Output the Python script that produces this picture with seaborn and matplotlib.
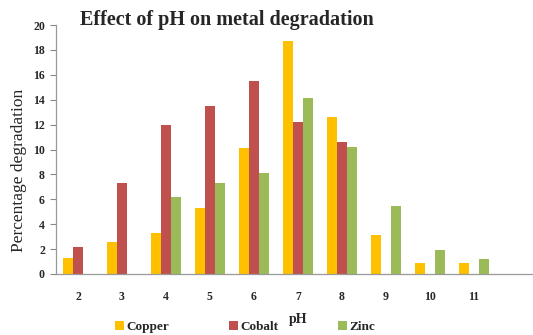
import matplotlib
matplotlib.use("Agg")
import matplotlib.pyplot as plt
import seaborn as sns
import pandas as pd
from matplotlib.patches import Patch

ph = ["2", "3", "4", "5", "6", "7", "8", "9", "10", "11"]
copper = [1.3, 2.6, 3.3, 5.3, 10.1, 18.7, 12.6, 3.1, 0.9, 0.9]
cobalt = [2.2, 7.3, 12.0, 13.5, 15.5, 12.2, 10.6, 0.0, 0.0, 0.0]
zinc = [0.0, 0.0, 6.2, 7.3, 8.1, 14.1, 10.2, 5.5, 1.9, 1.2]
series = ["Copper", "Cobalt", "Zinc"]
colors = ["#FFC000", "#C0504D", "#9BBB59"]
yticks = [0, 2, 4, 6, 8, 10, 12, 14, 16, 18, 20]

rows = []
for name, vals in zip(series, [copper, cobalt, zinc]):
    for p, v in zip(ph, vals):
        rows.append({"pH": p, "Metal": name, "value": v})
df = pd.DataFrame(rows)

sns.set_style("white")
plt.rcParams["font.family"] = ["Liberation Serif", "DejaVu Serif"]

fig = plt.figure(figsize=(5.33, 3.35), dpi=100)
ax = fig.add_axes([56 / 533, 1 - 274 / 335, (533 - 56) / 533, (274 - 25) / 335])

sns.barplot(data=df, x="pH", y="value", hue="Metal", order=ph, hue_order=series,
            palette=colors, width=0.68, gap=0, linewidth=0, saturation=1, ax=ax,
            legend=False)

ax.set_xlim(-0.5, len(ph) + 0.35)
ax.set_ylim(0, 20)
ax.set_yticks(yticks)
ax.set_yticklabels([str(t) for t in yticks], fontweight="bold", fontsize=8.5)
ax.set_xticks(range(len(ph)))
ax.set_xticklabels(ph, fontweight="bold", fontsize=8.5)
ax.tick_params(axis="x", length=0, pad=12)
ax.tick_params(axis="y", length=4, width=0.8, color="#888888", direction="out", pad=4, left=True)
for s in ["top", "right"]:
    ax.spines[s].set_visible(False)
for s in ["left", "bottom"]:
    ax.spines[s].set_color("#999999")
    ax.spines[s].set_linewidth(0.9)

ax.set_xlabel("pH", fontweight="bold", fontsize=10)
ax.xaxis.set_label_coords((298 - 56) / 477, -(313 - 274) / 249)
ax.set_ylabel("Percentage degradation", fontsize=12.5)
ax.yaxis.set_label_coords(-(57 - 28) / 477, (274 - 170) / 249)

fig.text(227 / 533, 1 - 20 / 335, "Effect of pH on metal degradation",
         fontsize=14.5, fontweight="bold", ha="center", va="center")

handles = [Patch(facecolor=c, edgecolor="none") for c in colors]
fig.legend(handles, series, loc="center", bbox_to_anchor=(245 / 533, 1 - 327 / 335),
           ncol=3, frameon=False, columnspacing=4.5, handlelength=0.7, handleheight=0.7,
           handletextpad=0.2, prop={"weight": "bold", "size": 9.5})

fig.savefig("out.png", dpi=100)
